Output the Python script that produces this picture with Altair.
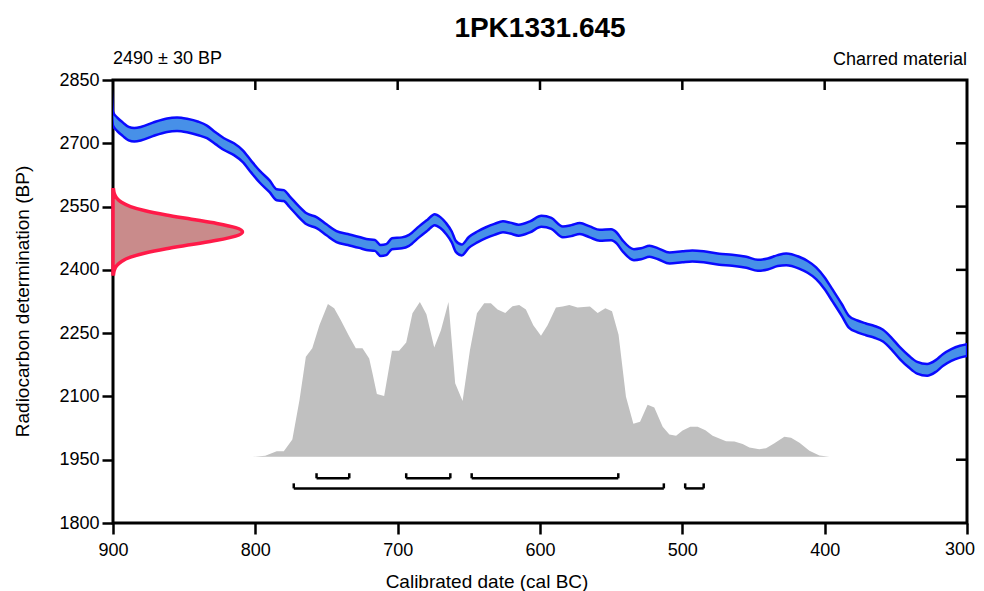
import altair as alt
import pandas as pd

TITLE = "1PK1331.645"
DETERMINATION = "2490 ± 30 BP"
MATERIAL = "Charred material"
X_TITLE = "Calibrated date (cal BC)"
Y_TITLE = "Radiocarbon determination (BP)"

X_TICKS = [900, 800, 700, 600, 500, 400, 300]
Y_TICKS = [1800, 1950, 2100, 2250, 2400, 2550, 2700, 2850]

# calibration curve (cal BC, BP, 1-sigma half width)
CURVE_YEAR = [902, 900, 897, 893, 889, 885, 880, 872, 862, 855, 848, 840, 834,
              828, 822, 815, 809, 803, 797, 790,
              785, 780, 776, 770, 764, 757, 750, 743, 735, 727, 722, 716, 712, 708,
              704, 697, 692, 685, 679, 674, 670, 666, 662, 659, 655, 650, 644, 638,
              632, 626, 621, 615, 607, 599, 592, 584, 578, 572, 565, 558, 550, 546,
              542, 534, 529, 523, 517, 509, 500, 493, 485, 474, 465, 455, 447, 440, 433,
              427, 418, 412, 406, 400, 395, 388, 383, 377, 371, 365, 359, 353, 347,
              341, 335, 328, 322, 317, 311, 305, 300]
CURVE_MID = [2950, 2758, 2745, 2733, 2723, 2720, 2723, 2733, 2743, 2745, 2742, 2735, 2727,
             2712, 2698, 2686, 2670, 2645, 2621, 2598,
             2578, 2576, 2562, 2540, 2521, 2512, 2495, 2479, 2472, 2465, 2460, 2458, 2446, 2448,
             2462, 2464, 2470, 2490, 2506, 2519, 2512, 2498, 2478, 2455, 2447, 2465, 2478, 2488,
             2496, 2502, 2499, 2494, 2502, 2515, 2510, 2490, 2493, 2498, 2490, 2482, 2483, 2475,
             2457, 2436, 2438, 2444, 2438, 2428, 2431, 2433, 2431, 2425, 2423, 2418, 2411, 2414, 2422,
             2425, 2417, 2407, 2392, 2368, 2342, 2305, 2277, 2266, 2259, 2253, 2244, 2225, 2202,
             2183, 2168, 2163, 2172, 2186, 2198, 2206, 2210]
CURVE_ERR = [16, 16, 16, 16, 16, 16, 16, 16, 16, 16, 16, 16, 15,
             14, 14, 14, 14, 14, 14, 14,
             13, 13, 13, 13, 13, 13, 13, 13, 13, 13, 13, 13, 13, 13,
             13, 13, 13, 13, 13, 13, 13, 13, 13, 13, 13, 13, 13, 13,
             13, 13, 13, 13, 13, 13, 13, 13, 13, 13, 13, 13, 13, 13,
             13, 13, 13, 13, 13, 13, 13, 13, 13, 13, 13, 13, 13, 13, 13,
             14, 14, 14, 14, 14, 14, 14, 14, 14, 14, 14, 14, 14, 14,
             14, 14, 14, 14, 14, 14, 14, 14]

# radiocarbon measurement distribution (BP, height in years)
GAUSS_BP = [2390, 2400, 2410, 2420, 2430, 2440, 2450, 2460, 2470, 2480, 2490,
            2500, 2510, 2520, 2530, 2540, 2550, 2560, 2570, 2580, 2590]
GAUSS_H = [0.4, 1.0, 2.6, 6.0, 12.3, 22.7, 37.4, 55.2, 72.9, 86.1, 91.0,
           86.1, 72.9, 55.2, 37.4, 22.7, 12.3, 6.0, 2.6, 1.0, 0.4]

# calibrated probability distribution (cal BC, top in BP units)
PROB_BASE = 1957
PROB_YEAR = [802, 793, 785, 780, 774, 769, 764.5, 760, 755, 749, 744.6, 740, 734, 729.4, 724.7,
             720, 717.7, 714.6, 709.5, 704, 699, 694, 689.6, 684.4, 679.8, 674.3, 669.6, 664.3,
             659.6, 654.4, 649.2, 644.3, 639.2, 634.5, 629.8, 624.4, 619.3, 614.6, 609.9, 604.7,
             599.3, 594.7, 588.8, 584.1, 579.4, 573.6, 564.9, 559.5, 554.1, 549.4, 544.8, 539.6,
             534.4, 529.7, 524.4, 519.7, 513.8, 509.1, 504.4, 499.8, 494.4, 489.2, 483.8, 478.7,
             469.3, 463.4, 457.6, 452.9, 445.9, 441.2, 435.3, 428.3, 423.6, 417.7, 410.7, 403.7, 396.7]
PROB_TOP = [1957, 1959.5, 1970, 1970, 1998, 2091, 2194, 2214, 2269, 2319, 2309, 2281, 2242, 2214, 2214,
            2190, 2155, 2106, 2101, 2208, 2208, 2228, 2297, 2324, 2295, 2216, 2257, 2324,
            2131, 2089, 2210, 2297, 2321, 2321, 2306, 2298, 2314, 2317, 2306, 2269,
            2244, 2269, 2311, 2313, 2317, 2311, 2313, 2298, 2309, 2302, 2246, 2099,
            2035, 2040, 2080, 2074, 2028, 2010, 2007, 2019, 2028, 2028, 2020, 2007,
            1994, 1993, 1987, 1979, 1975, 1977, 1989, 2004.5, 2002, 1990, 1971, 1960, 1957]

# highest posterior density ranges
R68_FROM = [757, 694, 648]
R68_TO = [734, 663, 545]
R95_FROM = [773, 498]
R95_TO = [513, 485]
ROW68 = 1906
ROW95 = 1882
CAP = 12

FONT = "Liberation Sans"

curve_df = pd.DataFrame({
    "year": CURVE_YEAR,
    "lo": [m - e for m, e in zip(CURVE_MID, CURVE_ERR)],
    "hi": [m + e for m, e in zip(CURVE_MID, CURVE_ERR)],
})
gauss_df = pd.DataFrame({
    "bp": GAUSS_BP,
    "x0": [X_TICKS[0]] * len(GAUSS_BP),
    "x1": [X_TICKS[0] - h for h in GAUSS_H],
})
prob_df = pd.DataFrame({"year": PROB_YEAR, "top": PROB_TOP,
                        "base": [PROB_BASE] * len(PROB_YEAR)})
bars_df = pd.DataFrame({
    "start": R68_FROM + R95_FROM,
    "end": R68_TO + R95_TO,
    "row": [ROW68] * len(R68_FROM) + [ROW95] * len(R95_FROM),
})
caps_x, caps_y = [], []
for s, e, r in zip(bars_df["start"], bars_df["end"], bars_df["row"]):
    caps_x += [s, e]
    caps_y += [r, r]
caps_df = pd.DataFrame({"x": caps_x, "y": caps_y, "y2": [v + CAP for v in caps_y]})

xs = alt.Scale(domain=[X_TICKS[0], X_TICKS[-1]], nice=False, zero=False)
ys = alt.Scale(domain=[Y_TICKS[0], Y_TICKS[-1]], nice=False, zero=False)

LAST_X = X_TICKS[-1]

def xax():
    return alt.Axis(title=None, values=X_TICKS, format="d", tickSize=11, tickWidth=2.5,
                    tickColor="black", domain=False, grid=False, labelFontSize=18,
                    labelFont=FONT, labelColor="black", labelPadding=7,
                    labelFlush=False, labelOverlap=False,
                    labelExpr=f"datum.value == {LAST_X} ? '' : datum.label")

def yax():
    return alt.Axis(title=None, values=Y_TICKS, format="d", tickSize=11, tickWidth=2.5,
                    tickColor="black", domain=False, grid=False, labelFontSize=18,
                    labelFont=FONT, labelColor="black", labelPadding=3,
                    labelFlush=False, labelOverlap=False)

W, H = 854, 443

prob = alt.Chart(prob_df).mark_area(color="#c0c0c0").encode(
    x=alt.X("year:Q", scale=xs, axis=xax()),
    y=alt.Y("top:Q", scale=ys, axis=yax()),
    y2="base:Q",
)
band = alt.Chart(curve_df).mark_area(
    fill="#4790e8", stroke="#0a0aff", strokeWidth=2.5, clip=True, interpolate="monotone"
).encode(
    x=alt.X("year:Q", scale=xs, axis=xax()),
    y=alt.Y("lo:Q", scale=ys, axis=yax()),
    y2="hi:Q",
)
gauss = alt.Chart(gauss_df).mark_area(
    orient="horizontal", fill="#c98b8b", stroke="#ff1a48", strokeWidth=3.5,
    interpolate="monotone"
).encode(
    y=alt.Y("bp:Q", scale=ys, axis=yax()),
    x=alt.X("x1:Q", scale=xs, axis=xax()),
    x2="x0:Q",
)
bars = alt.Chart(bars_df).mark_rule(color="black", strokeWidth=2.5).encode(
    x=alt.X("start:Q", scale=xs, axis=xax()),
    x2="end:Q",
    y=alt.Y("row:Q", scale=ys, axis=yax()),
)
caps = alt.Chart(caps_df).mark_rule(color="black", strokeWidth=2.5).encode(
    x=alt.X("x:Q", scale=xs, axis=xax()),
    y=alt.Y("y:Q", scale=ys, axis=yax()),
    y2="y2:Q",
)
top_ticks = alt.Chart(pd.DataFrame({"v": X_TICKS[1:-1]})).mark_rule(
    color="black", strokeWidth=2.5
).encode(
    x=alt.X("v:Q", scale=xs, axis=xax()),
    y=alt.value(0), y2=alt.value(10),
)
right_ticks = alt.Chart(pd.DataFrame({"v": Y_TICKS[1:-1]})).mark_rule(
    color="black", strokeWidth=2.5
).encode(
    y=alt.Y("v:Q", scale=ys, axis=yax()),
    x=alt.value(W - 11), x2=alt.value(W),
)
# last x label, nudged inward so it is not cut by the page edge
last_label = alt.Chart(pd.DataFrame({"v": [LAST_X]})).mark_text(
    font=FONT, fontSize=18, align="center", baseline="top", color="black", dx=-7
).encode(
    x=alt.X("v:Q", scale=xs, axis=xax()),
    y=alt.value(H + 18),
    text=alt.Text("v:Q", format="d"),
)

def label(text, x, y, size, align="center", weight="normal", angle=0):
    return alt.Chart(pd.DataFrame({"t": [text]})).mark_text(
        font=FONT, fontSize=size, fontWeight=weight, align=align,
        baseline="alphabetic", color="black", angle=angle
    ).encode(text="t:N", x=alt.value(x), y=alt.value(y))

t_title = label(TITLE, W / 2, -43, 28, weight="bold")
t_det = label(DETERMINATION, 0, -16, 18, align="left")
t_mat = label(MATERIAL, W, -15, 18, align="right")
t_x = label(X_TITLE, 374, 508, 19)
t_y = alt.Chart(pd.DataFrame({"t": [Y_TITLE]})).mark_text(
    font=FONT, fontSize=19, align="center", baseline="middle", color="black", angle=270
).encode(text="t:N", x=alt.value(-90), y=alt.value(H / 2))

chart = alt.layer(
    prob, band, gauss, bars, caps, top_ticks, right_ticks, last_label,
    t_title, t_det, t_mat, t_x, t_y
).properties(
    width=W, height=H,
    autosize=alt.AutoSizeParams(type="none"),
    padding={"left": 105, "top": 72, "right": 9, "bottom": 70},
).configure_view(
    stroke="black", strokeWidth=3
)

chart.save("out.html", embed_options={"renderer": "svg", "actions": False})
